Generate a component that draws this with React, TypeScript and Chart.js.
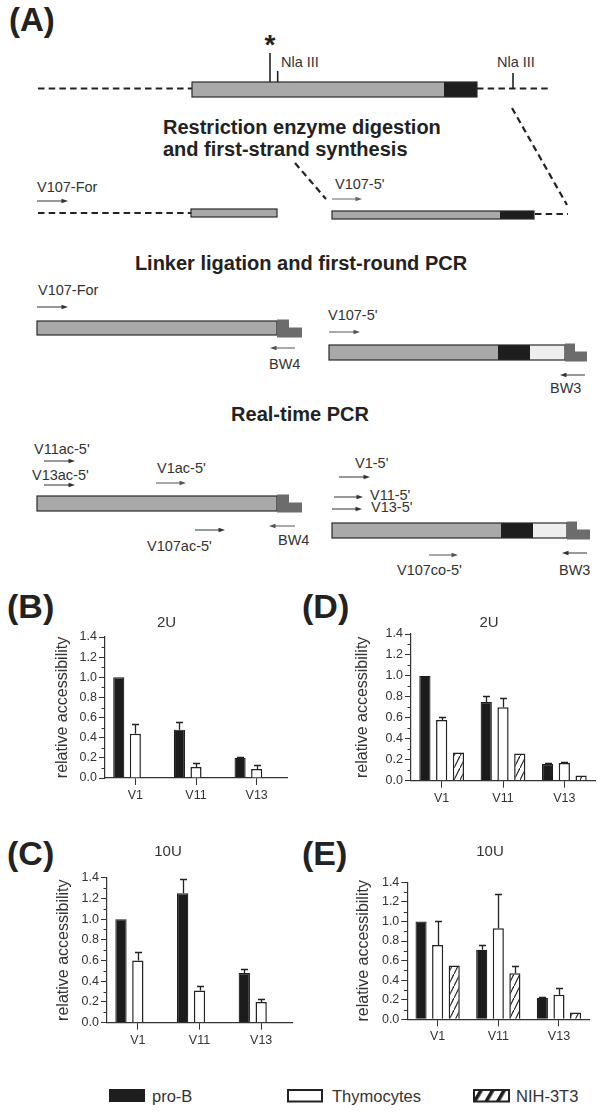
import React, { useEffect, useRef } from 'react';
import { Chart, registerables } from 'chart.js';

Chart.register(...registerables);

const FONT = "'Liberation Sans', Arial, Helvetica, sans-serif";
Chart.defaults.font.family = FONT;

// ---------- data ----------
const categories = ['V1', 'V11', 'V13'];
const seriesNames = ['pro-B', 'Thymocytes', 'NIH-3T3'];
const yAxisTitle = 'relative accessibility';

// Panel B (2U)
const proB_B = [1.0, 0.48, 0.2];
const proB_B_err = [0, 0.08, 0.01];
const thy_B = [0.44, 0.11, 0.09];
const thy_B_err = [0.1, 0.04, 0.04];
const nih_B = [null, null, null];
const nih_B_err = [0, 0, 0];

// Panel C (10U)
const proB_C = [1.0, 1.25, 0.48];
const proB_C_err = [0, 0.14, 0.04];
const thy_C = [0.6, 0.31, 0.2];
const thy_C_err = [0.08, 0.04, 0.03];
const nih_C = [null, null, null];
const nih_C_err = [0, 0, 0];

// Panel D (2U)
const proB_D = [1.0, 0.75, 0.16];
const proB_D_err = [0, 0.06, 0.01];
const thy_D = [0.58, 0.7, 0.17];
const thy_D_err = [0.03, 0.09, 0.01];
const nih_D = [0.27, 0.26, 0.05];
const nih_D_err = [0, 0, 0];

// Panel E (10U)
const proB_E = [1.0, 0.71, 0.22];
const proB_E_err = [0, 0.05, 0.01];
const thy_E = [0.76, 0.93, 0.25];
const thy_E_err = [0.24, 0.35, 0.07];
const nih_E = [0.55, 0.47, 0.07];
const nih_E_err = [0, 0.07, 0];

type Box = {
  left: number; top: number; width: number; height: number;
  padR: number; padT: number; yW: number; yTitlePad: number;
  titleX: number; titleY: number; xH: number;
};
type Panel = {
  id: string; letter: string; title: string;
  proB: (number | null)[]; proBErr: number[];
  thy: (number | null)[]; thyErr: number[];
  nih: (number | null)[]; nihErr: number[];
  box: Box;
};

const panels: Panel[] = [
  { id: 'B', letter: '(B)', title: '2U', proB: proB_B, proBErr: proB_B_err, thy: thy_B, thyErr: thy_B_err, nih: nih_B, nihErr: nih_B_err,
    box: { left: 40, top: 600, width: 253, height: 215, padR: 6, padT: 37, yW: 65, yTitlePad: 13.4, titleX: 126.5, titleY: 23, xH: 37 } },
  { id: 'C', letter: '(C)', title: '10U', proB: proB_C, proBErr: proB_C_err, thy: thy_C, thyErr: thy_C_err, nih: nih_C, nihErr: nih_C_err,
    box: { left: 40, top: 830, width: 257, height: 230, padR: 5, padT: 47.7, yW: 67, yTitlePad: 13.7, titleX: 128, titleY: 22, xH: 37.3 } },
  { id: 'D', letter: '(D)', title: '2U', proB: proB_D, proBErr: proB_D_err, thy: thy_D, thyErr: thy_D_err, nih: nih_D, nihErr: nih_D_err,
    box: { left: 340, top: 600, width: 260, height: 218, padR: 5, padT: 34, yW: 71, yTitlePad: 13.4, titleX: 149, titleY: 23.3, xH: 37.3 } },
  { id: 'E', letter: '(E)', title: '10U', proB: proB_E, proBErr: proB_E_err, thy: thy_E, thyErr: thy_E_err, nih: nih_E, nihErr: nih_E_err,
    box: { left: 340, top: 830, width: 260, height: 227, padR: 10.7, padT: 52.3, yW: 67.3, yTitlePad: 13.7, titleX: 150, titleY: 21.7, xH: 37.7 } },
];

// ---------- plugins ----------
const panelTitlePlugin = {
  id: 'panelTitle',
  afterDraw(chart: any, _args: any, opts: any) {
    if (!opts || !opts.text) return;
    const ctx = chart.ctx;
    ctx.save();
    ctx.fillStyle = opts.color || '#333';
    ctx.font = `${opts.size || 15}px ${FONT}`;
    ctx.textAlign = 'center';
    ctx.textBaseline = 'middle';
    ctx.fillText(opts.text, opts.x, opts.y);
    ctx.restore();
  },
};

const errorBarPlugin = {
  id: 'errorBars',
  afterDatasetsDraw(chart: any) {
    const ctx = chart.ctx;
    const ys = chart.scales.y;
    chart.data.datasets.forEach((ds: any, i: number) => {
      const errs = ds.errors as number[] | undefined;
      if (!errs) return;
      const meta = chart.getDatasetMeta(i);
      meta.data.forEach((bar: any, j: number) => {
        const v = ds.data[j];
        const e = errs[j];
        if (v == null || !e) return;
        const x = Math.round(bar.x) + 0.5;
        const y0 = bar.y;
        const y1 = Math.round(ys.getPixelForValue(v + e)) + 0.5;
        ctx.save();
        ctx.strokeStyle = '#222';
        ctx.lineWidth = 1.3;
        ctx.beginPath();
        ctx.moveTo(x, y0);
        ctx.lineTo(x, y1);
        ctx.moveTo(x - 3.5, y1);
        ctx.lineTo(x + 3.5, y1);
        ctx.stroke();
        ctx.restore();
      });
    });
  },
};

const minorTickPlugin = {
  id: 'minorTicks',
  afterDraw(chart: any, _args: any, opts: any) {
    const ys = chart.scales.y;
    const step = opts.step || 0.1;
    const len = opts.length || 3.5;
    const ctx = chart.ctx;
    ctx.save();
    ctx.strokeStyle = '#333';
    ctx.lineWidth = 1;
    ctx.beginPath();
    for (let v = ys.min + step; v < ys.max - 1e-6; v += 2 * step) {
      const py = Math.round(ys.getPixelForValue(v)) + 0.5;
      ctx.moveTo(ys.right, py);
      ctx.lineTo(ys.right - len, py);
    }
    ctx.stroke();
    ctx.restore();
  },
};

function makeHatch(): CanvasPattern | string {
  const c = document.createElement('canvas');
  c.width = 6;
  c.height = 12;
  const g = c.getContext('2d');
  if (!g) return '#fff';
  g.fillStyle = '#fff';
  g.fillRect(0, 0, 6, 12);
  g.strokeStyle = '#1e1e1e';
  g.lineWidth = 1.2;
  g.beginPath();
  g.moveTo(-1, 14);
  g.lineTo(7, -2);
  g.stroke();
  return g.createPattern(c, 'repeat') || '#fff';
}

function BarPanel({ p }: { p: Panel }) {
  const ref = useRef<HTMLCanvasElement | null>(null);
  useEffect(() => {
    if (!ref.current) return;
    const b = p.box;
    const hatch = makeHatch();
    const chart = new Chart(ref.current, {
      type: 'bar',
      data: {
        labels: categories,
        datasets: [
          { label: seriesNames[0], data: p.proB, errors: p.proBErr, backgroundColor: '#1c1c1c', borderColor: '#1c1c1c', borderWidth: 1.2 } as any,
          { label: seriesNames[1], data: p.thy, errors: p.thyErr, backgroundColor: '#ffffff', borderColor: '#222', borderWidth: 1.5 } as any,
          { label: seriesNames[2], data: p.nih, errors: p.nihErr, backgroundColor: hatch, borderColor: '#222', borderWidth: 1.5 } as any,
        ],
      },
      options: {
        responsive: false,
        animation: false,
        events: [],
        layout: { padding: { left: 0, right: b.padR, top: b.padT, bottom: 0 } },
        datasets: { bar: { categoryPercentage: 0.82, barPercentage: 0.67 } },
        plugins: {
          legend: { display: false },
          tooltip: { enabled: false },
          title: { display: false },
          panelTitle: { text: p.title, x: b.titleX, y: b.titleY, size: 15, color: '#333' },
          minorTicks: { step: 0.1, length: 3.5 },
        } as any,
        scales: {
          x: {
            grid: { display: true, drawOnChartArea: false, drawTicks: true, tickLength: 7, offset: false, color: '#333', lineWidth: 1 },
            border: { display: true, color: '#333', width: 1.2 },
            ticks: { color: '#333', font: { size: 12.5 }, padding: 3 },
            afterFit: (s: any) => { s.height = b.xH; },
          },
          y: {
            min: 0,
            max: 1.4,
            grid: { display: true, drawOnChartArea: false, drawTicks: true, tickLength: 6, color: '#333', lineWidth: 1 },
            border: { display: true, color: '#333', width: 1.2 },
            ticks: { stepSize: 0.2, color: '#333', font: { size: 12.5 }, padding: 2, callback: (v: any) => Number(v).toFixed(1) },
            title: { display: true, text: yAxisTitle, color: '#333', font: { size: 16 }, padding: { top: b.yTitlePad, bottom: 0 } },
            afterFit: (s: any) => { s.width = b.yW; },
          },
        },
      } as any,
      plugins: [errorBarPlugin, minorTickPlugin, panelTitlePlugin],
    });
    return () => chart.destroy();
  }, [p]);
  const b = p.box;
  return (
    <canvas
      ref={ref}
      width={b.width}
      height={b.height}
      style={{ position: 'absolute', left: b.left, top: b.top, width: b.width, height: b.height, display: 'block' }}
    />
  );
}

// ---------- schematic (panel A) ----------
const TXT = '#333';
const GRAY = '#a9a9a9';
const DARK = '#1e1e1e';
const LIGHT = '#eeeeee';
const LINKER = '#6c6c6c';

function Arrow({ x1, x2, y, c = '#333' }: { x1: number; x2: number; y: number; c?: string }) {
  const d = Math.sign(x2 - x1);
  return (
    <g>
      <line x1={x1} y1={y} x2={x2 - d * 4} y2={y} stroke={c} strokeWidth={1} />
      <polygon points={`${x2},${y} ${x2 - d * 6.5},${y - 2.3} ${x2 - d * 6.5},${y + 2.3}`} fill={c} />
    </g>
  );
}

function T({ x, y, children, size = 14.5, bold = false, anchor = 'start' }: any) {
  return (
    <text x={x} y={y} fontFamily={FONT} fontSize={size} fontWeight={bold ? 'bold' : 'normal'} fill={bold ? '#222' : TXT} textAnchor={anchor}>
      {children}
    </text>
  );
}

function Linker({ x, y, wu, wt }: { x: number; y: number; wu: number; wt: number }) {
  return <polygon points={`${x},${y} ${x + wu},${y} ${x + wu},${y + 8} ${x + wt},${y + 8} ${x + wt},${y + 18} ${x},${y + 18}`} fill={LINKER} />;
}

function Dashed({ x1, y1, x2, y2, w = 2 }: any) {
  return <line x1={x1} y1={y1} x2={x2} y2={y2} stroke="#222" strokeWidth={w} strokeDasharray="6.5 4.2" />;
}

function Segments({ x, y, h, parts }: { x: number; y: number; h: number; parts: [number, string][] }) {
  let cx = x;
  const rects = parts.map(([w, fill], i) => {
    const r = <rect key={i} x={cx} y={y} width={w} height={h} fill={fill} />;
    cx += w;
    return r;
  });
  return (
    <g>
      {rects}
      <rect x={x} y={y} width={cx - x} height={h} fill="none" stroke="#2a2a2a" strokeWidth={1.2} />
    </g>
  );
}

function Schematic() {
  return (
    <svg width={600} height={1112} style={{ position: 'absolute', left: 0, top: 0 }}>
      <defs>
        <pattern id="legHatch" width="10" height="10" patternUnits="userSpaceOnUse" patternTransform="rotate(30)">
          <rect width="10" height="10" fill="#fff" />
          <rect x="0" y="0" width="3.6" height="10" fill="#1e1e1e" />
        </pattern>
      </defs>
      <T x={9} y={31} size={33} bold>(A)</T>

      {/* genomic locus */}
      <T x={270} y={54} size={28} bold anchor="middle">*</T>
      <line x1={270} y1={53} x2={270} y2={82} stroke="#222" strokeWidth={1.6} />
      <line x1={277.7} y1={71} x2={277.7} y2={82} stroke="#222" strokeWidth={1.6} />
      <T x={281} y={67}>Nla III</T>
      <T x={497} y={67}>Nla III</T>
      <line x1={513} y1={73} x2={513} y2={88} stroke="#222" strokeWidth={1.6} />
      <Dashed x1={38} y1={88.5} x2={192} y2={88.5} />
      <Segments x={192} y={82} h={15} parts={[[252, GRAY], [33, DARK]]} />
      <Dashed x1={477} y1={88.5} x2={550} y2={88.5} />

      <T x={163} y={134} size={20} bold>Restriction enzyme digestion</T>
      <T x={163} y={156} size={20} bold>and first-strand synthesis</T>

      <Dashed x1={295} y1={163} x2={326} y2={199} w={2.2} />
      <Dashed x1={512} y1={108} x2={567} y2={205} w={2.2} />

      {/* digestion products */}
      <T x={37} y={192}>V107-For</T>
      <Arrow x1={37} x2={68} y={201} />
      <Dashed x1={38} y1={213} x2={191} y2={213} />
      <Segments x={191} y={209} h={8} parts={[[86, GRAY]]} />
      <T x={335} y={189}>V107-5'</T>
      <Arrow x1={332} x2={362} y={199} c="#666" />
      <Segments x={332} y={211} h={8} parts={[[168, GRAY], [34, DARK]]} />
      <Dashed x1={535} y1={214} x2={568} y2={214} />

      <T x={301} y={270} size={20} bold anchor="middle">Linker ligation and first-round PCR</T>

      {/* linker ligation */}
      <T x={38} y={295}>V107-For</T>
      <Arrow x1={37} x2={68} y={307} />
      <Segments x={37} y={321} h={14} parts={[[240, GRAY]]} />
      <Linker x={277} y={319.5} wu={12} wt={25} />
      <Arrow x1={295} x2={270} y={348} c="#555" />
      <T x={269} y={369}>BW4</T>

      <T x={328} y={320}>V107-5'</T>
      <Arrow x1={329} x2={360} y={332} c="#555" />
      <Segments x={329} y={345} h={15} parts={[[169, GRAY], [32, DARK], [35, LIGHT]]} />
      <Linker x={565} y={343.5} wu={10} wt={22} />
      <Arrow x1={585} x2={560} y={375} />
      <T x={550} y={393}>BW3</T>

      <T x={300} y={421} size={20} bold anchor="middle">Real-time PCR</T>

      {/* real-time PCR */}
      <T x={34} y={454}>V11ac-5'</T>
      <Arrow x1={44} x2={75} y={461} />
      <T x={32} y={480}>V13ac-5'</T>
      <Arrow x1={44} x2={75} y={485} />
      <T x={157} y={473}>V1ac-5'</T>
      <Arrow x1={156} x2={186} y={483} c="#555" />
      <Segments x={37} y={496} h={15} parts={[[240, GRAY]]} />
      <Linker x={277} y={494.5} wu={12} wt={25} />
      <Arrow x1={195} x2={225} y={530} />
      <T x={147} y={551}>V107ac-5'</T>
      <Arrow x1={295} x2={269} y={526} c="#555" />
      <T x={278} y={545}>BW4</T>

      <T x={355} y={468}>V1-5'</T>
      <Arrow x1={339} x2={370} y={477} />
      <Arrow x1={334} x2={363} y={497} />
      <T x={370} y={500}>V11-5'</T>
      <Arrow x1={332} x2={362} y={509} />
      <T x={371} y={512}>V13-5'</T>
      <Segments x={332} y={523} h={15} parts={[[169, GRAY], [32, DARK], [34, LIGHT]]} />
      <Linker x={567} y={521.5} wu={10} wt={23} />
      <Arrow x1={429} x2={458} y={555} c="#555" />
      <T x={397} y={575}>V107co-5'</T>
      <Arrow x1={587} x2={562} y={553} />
      <T x={559} y={575}>BW3</T>

      {/* panel letters */}
      {panels.map((p) => (
        <T key={p.id} x={p.box.left < 300 ? 7 : 302} y={p.box.top < 700 ? 618 : 865} size={34} bold>{p.letter}</T>
      ))}

      {/* legend */}
      <rect x={109} y={1089} width={36} height={13} fill={DARK} />
      <T x={152} y={1101.5} size={16.5}>{seriesNames[0]}</T>
      <rect x={288} y={1090} width={34} height={11.5} fill="#fff" stroke="#222" strokeWidth={2} />
      <T x={332} y={1101.5} size={16.5}>{seriesNames[1]}</T>
      <rect x={474} y={1090} width={35} height={11.5} fill="url(#legHatch)" stroke="#222" strokeWidth={2} />
      <T x={516} y={1101.5} size={16.5}>{seriesNames[2]}</T>
    </svg>
  );
}

export default function App() {
  return (
    <div style={{ position: 'absolute', left: 0, top: 0, width: 600, height: 1112, overflow: 'hidden', background: '#fff' }}>
      <Schematic />
      {panels.map((p) => (
        <BarPanel key={p.id} p={p} />
      ))}
    </div>
  );
}
